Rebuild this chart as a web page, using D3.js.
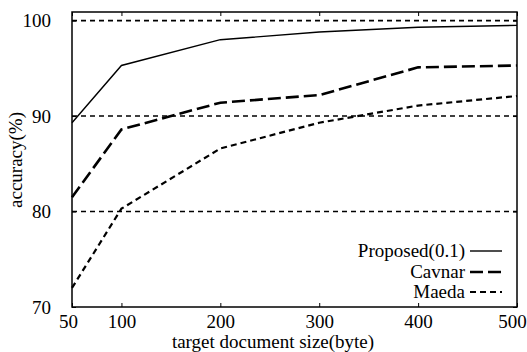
<!DOCTYPE html>
<html>
<head>
<meta charset="UTF-8">
<script src="https://d3js.org/d3.v7.min.js"></script>
<style>
  body { margin: 0; background: #fff; }
  text { font-family: "Liberation Serif", "Times New Roman", serif; fill: #000; }
</style>
</head>
<body>
<svg id="chart" width="527" height="352"></svg>
<script>
// data
const sizes = [50, 100, 200, 300, 400, 500];
const proposed = [89.3, 95.3, 98.0, 98.8, 99.3, 99.5];
const cavnar = [81.5, 88.6, 91.4, 92.2, 95.1, 95.3];
const maeda = [72.0, 80.3, 86.6, 89.3, 91.1, 92.1];
const xTicks = [50, 100, 200, 300, 400, 500];
const yTicks = [70, 80, 90, 100];
const gridValues = [80, 90, 100];
const seriesNames = ["Proposed(0.1)", "Cavnar", "Maeda"];

const svg = d3.select("#chart");
const mLeft = 72, mRight = 517, mTop = 12, mBottom = 307;

const x = d3.scaleLinear().domain([50, 500]).range([mLeft, mRight]);
const y = d3.scaleLinear().domain([70, 100.9]).range([mBottom, mTop]);

const styles = [
  { width: 1.4, dash: null },
  { width: 2.6, dash: "13,5" },
  { width: 2.2, dash: "6,4" }
];

// dashed reference lines
svg.append("g").selectAll("line").data(gridValues).join("line")
  .attr("x1", mLeft).attr("x2", mRight)
  .attr("y1", d => y(d)).attr("y2", d => y(d))
  .attr("stroke", "#000").attr("stroke-width", 1.6).attr("stroke-dasharray", "5,4");

// axes with inward ticks
svg.append("g").attr("transform", `translate(0,${mBottom})`)
  .call(d3.axisBottom(x).tickValues(xTicks).tickSizeInner(-4).tickSizeOuter(0).tickPadding(8))
  .call(g => g.select(".domain").remove())
  .call(g => g.selectAll("text").attr("font-size", 19)
    .attr("dx", d => d === 50 ? -4 : d === 500 ? -5 : 0));

svg.append("g").attr("transform", `translate(0,${mTop})`)
  .call(d3.axisTop(x).tickValues(xTicks).tickSizeInner(-4).tickSizeOuter(0).tickFormat(""))
  .call(g => g.select(".domain").remove());

svg.append("g").attr("transform", `translate(${mLeft},0)`)
  .call(d3.axisLeft(y).tickValues(yTicks).tickSizeInner(-4).tickSizeOuter(0).tickPadding(21))
  .call(g => g.select(".domain").remove())
  .call(g => g.selectAll("text").attr("font-size", 19));

svg.append("g").attr("transform", `translate(${mRight},0)`)
  .call(d3.axisRight(y).tickValues(yTicks).tickSizeInner(-4).tickSizeOuter(0).tickFormat(""))
  .call(g => g.select(".domain").remove());

svg.selectAll(".tick line").attr("stroke", "#000").attr("stroke-width", 1);

// frame
svg.append("rect").attr("x", mLeft).attr("y", mTop)
  .attr("width", mRight - mLeft).attr("height", mBottom - mTop)
  .attr("fill", "none").attr("stroke", "#000").attr("stroke-width", 1.5);

// series
const line = d3.line().x((d, i) => x(sizes[i])).y(d => y(d));
[proposed, cavnar, maeda].forEach((vals, i) => {
  svg.append("path").datum(vals)
    .attr("d", line)
    .attr("fill", "none").attr("stroke", "#000")
    .attr("stroke-width", styles[i].width)
    .attr("stroke-dasharray", styles[i].dash);
});

// legend
const legendY = [251, 272, 292];
seriesNames.forEach((name, i) => {
  svg.append("text").attr("x", 465).attr("y", legendY[i] + 6)
    .attr("text-anchor", "end").attr("font-size", 19).text(name);
  svg.append("line").attr("x1", 470).attr("x2", 502)
    .attr("y1", legendY[i]).attr("y2", legendY[i])
    .attr("stroke", "#000").attr("stroke-width", styles[i].width)
    .attr("stroke-dasharray", styles[i].dash);
});

// axis titles
svg.append("text").attr("x", 273).attr("y", 348)
  .attr("text-anchor", "middle").attr("font-size", 19).text("target document size(byte)");
svg.append("text").attr("transform", `translate(22,160) rotate(-90)`)
  .attr("text-anchor", "middle").attr("font-size", 19).text("accuracy(%)");
</script>
</body>
</html>
